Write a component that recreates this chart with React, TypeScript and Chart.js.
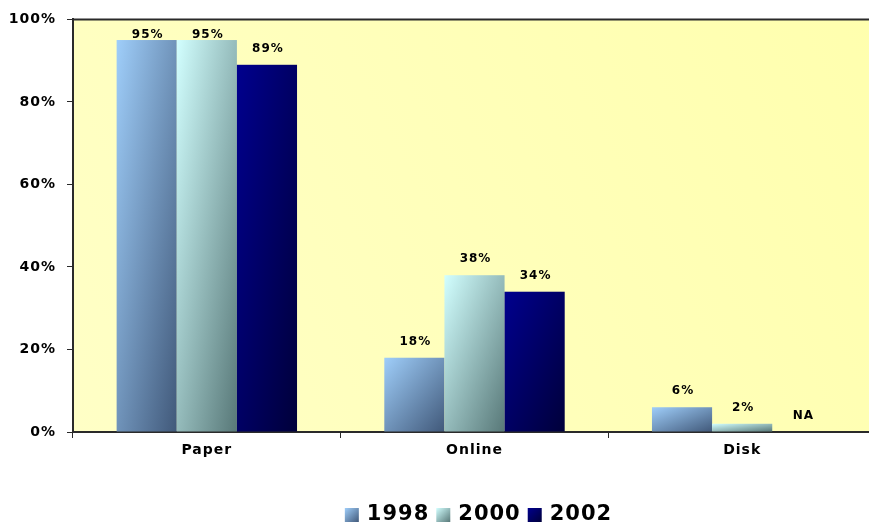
import { useEffect, useRef } from "react";
import { Chart, registerables } from "chart.js";

Chart.register(...registerables);

// Share of respondents by delivery format, per survey year
const categories = ["Paper", "Online", "Disk"];
const years = ["1998", "2000", "2002"];
const values1998 = [95, 18, 6];
const values2000 = [95, 38, 2];
const values2002: (number | null)[] = [89, 34, null];
const yTicks = [0, 20, 40, 60, 80, 100];

const seriesValues = [values1998, values2000, values2002];

// Diagonal fill for each series: top-left colour -> bottom-right colour
const seriesFills: [string, string][] = [
  ["#9FCEFA", "#41597A"],
  ["#D2FFFF", "#587878"],
  ["#00008E", "#00003A"],
];

const FONT = '"DejaVu Sans", Verdana, sans-serif';
const AXIS_COLOR = "#2a2a2a";

function fillDiagonal(
  ctx: CanvasRenderingContext2D,
  left: number,
  top: number,
  w: number,
  h: number,
  colors: [string, string]
) {
  if (w <= 0 || h <= 0) return;
  ctx.save();
  ctx.translate(left, top);
  ctx.scale(w, h);
  const g = ctx.createLinearGradient(0, 0, 1, 1);
  g.addColorStop(0, colors[0]);
  g.addColorStop(1, colors[1]);
  ctx.fillStyle = g;
  ctx.fillRect(0, 0, 1, 1);
  ctx.restore();
}

const plotLook = {
  id: "plotLook",
  beforeDraw(chart: any) {
    const { ctx, chartArea: a } = chart;
    ctx.letterSpacing = "1px";
    const g = ctx.createLinearGradient(a.left, a.bottom, a.right, a.top);
    g.addColorStop(0, "#FFFFC6");
    g.addColorStop(1, "#FFFFAE");
    ctx.save();
    ctx.fillStyle = g;
    ctx.fillRect(a.left, a.top, a.right - a.left, a.bottom - a.top);
    ctx.restore();
  },
  afterDatasetsDraw(chart: any) {
    const { ctx, chartArea: a } = chart;
    chart.data.datasets.forEach((ds: any, i: number) => {
      const meta = chart.getDatasetMeta(i);
      meta.data.forEach((el: any, j: number) => {
        const { x, y, base, width } = el.getProps(["x", "y", "base", "width"], true);
        const v = ds.data[j];
        let labelAnchor = base;
        if (v !== null && v !== undefined && isFinite(y)) {
          const top = Math.min(y, base);
          fillDiagonal(ctx, x - width / 2, top, width, Math.abs(base - y), seriesFills[i]);
          labelAnchor = top;
        }
        const text = v === null || v === undefined ? "NA" : `${v}%`;
        ctx.save();
        ctx.letterSpacing = "1px";
        ctx.font = `bold 12px ${FONT}`;
        ctx.fillStyle = "#000";
        ctx.textAlign = "center";
        ctx.textBaseline = "middle";
        const ly = Math.max(labelAnchor - 16, a.top + 15);
        ctx.fillText(text, x + 1, ly);
        ctx.restore();
      });
    });
  },
  afterDraw(chart: any) {
    const { ctx, chartArea: a } = chart;
    // frame line along the top of the plot
    ctx.save();
    ctx.strokeStyle = AXIS_COLOR;
    ctx.lineWidth = 2;
    ctx.beginPath();
    ctx.moveTo(a.left - 1, a.top);
    ctx.lineTo(chart.width, a.top);
    ctx.stroke();
    ctx.restore();

    // legend row under the axis
    ctx.save();
    ctx.letterSpacing = "1px";
    ctx.font = `bold 21px ${FONT}`;
    ctx.textBaseline = "middle";
    ctx.textAlign = "left";
    const box = 14;
    const gapBoxText = 8;
    const gapItems = 7;
    const labels: string[] = chart.data.datasets.map((d: any) => d.label);
    const widths = labels.map((t) => ctx.measureText(t).width);
    const total =
      widths.reduce((s, w) => s + box + gapBoxText + w, 0) + gapItems * (labels.length - 1);
    let x = (a.left + a.right) / 2 + 4 - total / 2;
    const cy = 515;
    labels.forEach((t, i) => {
      fillDiagonal(ctx, x, cy - box / 2, box, box, seriesFills[i]);
      x += box + gapBoxText;
      ctx.fillStyle = "#000";
      ctx.fillText(t, x, cy);
      x += widths[i] + gapItems;
    });
    ctx.restore();
  },
};

export default function App() {
  const canvasRef = useRef<HTMLCanvasElement | null>(null);

  useEffect(() => {
    const canvas = canvasRef.current;
    if (!canvas) return;
    const chart = new Chart(canvas, {
      type: "bar",
      data: {
        labels: categories,
        datasets: years.map((label, i) => ({
          label,
          data: seriesValues[i],
          backgroundColor: "rgba(0,0,0,0)",
          borderWidth: 0,
          categoryPercentage: 0.674,
          barPercentage: 1,
        })),
      },
      options: {
        animation: false,
        responsive: false,
        maintainAspectRatio: false,
        devicePixelRatio: 1,
        layout: { padding: { top: 18, right: 0, bottom: 0, left: 0 } },
        plugins: {
          legend: { display: false },
          tooltip: { enabled: false },
        },
        scales: {
          x: {
            afterFit: (s: any) => {
              s.height = 99;
            },
            grid: {
              display: true,
              drawOnChartArea: false,
              offset: true,
              tickLength: 6,
              color: AXIS_COLOR,
              lineWidth: 1,
            },
            border: { display: true, color: AXIS_COLOR, width: 2 },
            ticks: {
              color: "#000",
              padding: 4,
              font: { family: FONT, size: 14, weight: "bold" },
            },
          },
          y: {
            min: 0,
            max: 100,
            afterFit: (s: any) => {
              s.width = 73;
            },
            afterBuildTicks: (s: any) => {
              s.ticks = yTicks.map((value) => ({ value }));
            },
            grid: {
              display: true,
              drawOnChartArea: false,
              tickLength: 6,
              color: AXIS_COLOR,
              lineWidth: 1,
            },
            border: { display: true, color: AXIS_COLOR, width: 2 },
            ticks: {
              color: "#000",
              padding: 11,
              font: { family: FONT, size: 14, weight: "bold" },
              callback: (v: any) => `${v}%`,
            },
          },
        },
      },
      plugins: [plotLook],
    });
    return () => chart.destroy();
  }, []);

  return (
    <div
      style={{
        position: "fixed",
        left: 0,
        top: 0,
        width: 869,
        height: 531,
        overflow: "hidden",
        background: "#fff",
      }}
    >
      <canvas
        ref={canvasRef}
        width={876}
        height={531}
        style={{ display: "block", width: 876, height: 531 }}
      />
    </div>
  );
}
